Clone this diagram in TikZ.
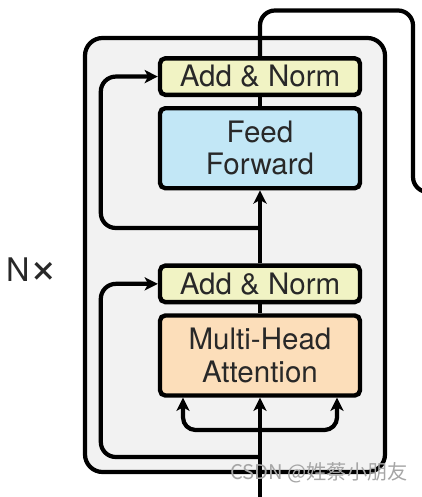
\documentclass[tikz,border=0pt]{standalone}
\usepackage{fontspec}
\setmainfont{TeX Gyre Heros}
\newfontfamily\cjkfont{Noto Sans CJK SC}
\usepackage{xcolor}
\usetikzlibrary{arrows.meta,positioning,calc}

\definecolor{normyellow}{RGB}{241,243,196}
\definecolor{ffblue}{RGB}{194,231,246}
\definecolor{attnorange}{RGB}{252,222,186}
\definecolor{layergray}{RGB}{242,242,242}
\definecolor{textgray}{RGB}{40,40,40}

\begin{document}
\begin{tikzpicture}[
    node distance=0.18cm,
    block/.style={rectangle, draw, rounded corners=3pt, line width=2.5pt, inner sep=2pt, minimum width=4cm, align=center, text=textgray, font=\fontsize{16.8}{18.4}\selectfont},
    addnorm/.style={block, fill=normyellow, minimum height=0.73cm},
    sublayer/.style={block, minimum height=1.6cm},
    wire/.style={line width=2.4pt},
    arrow/.style={wire, -{Stealth[length=7.5pt, width=7.5pt, inset=2pt]}},
    layer/.style={draw, line width=2.4pt, fill=layergray, rounded corners=10pt}
]
\useasboundingbox (0,0) rectangle (8.42,-9.94);

% Encoder layer, repeated N times
\draw[layer] (1.70,-0.76) rectangle (7.70,-9.44);
\node[font=\fontsize{18.5}{20}\selectfont, text=textgray, inner sep=0pt] (nx) at (0.64,-5.42) {N\raisebox{-1.2pt}{\scalebox{1.5}{×}}};

% Sub-layers
\node[sublayer, fill=attnorange] (mha) at (5.2,-7.11) {Multi-Head\\Attention};
\node[addnorm, above=of mha] (norm1) {Add \& Norm};
\node[sublayer, fill=ffblue, above=1.46cm of norm1] (ff) {Feed\\Forward};
\node[addnorm, above=of ff] (norm2) {Add \& Norm};

% Wire points
\coordinate (in) at (5.2,-10.1);
\coordinate (split) at (5.2,-8.6);
\coordinate (res1) at (5.2,-9.14);
\coordinate (res2) at (5.2,-4.56);
\coordinate (turn) at (8.26,-0.21);
\coordinate (out) at (8.7,-3.84);

% Main path
\draw[arrow] (in) -- (mha.south);
\draw[wire] (mha.north) -- (norm1.south);
\draw[arrow] (norm1.north) -- (ff.south);
\draw[wire] (ff.north) -- (norm2.south);
\draw[wire, rounded corners=0.3cm] (norm2.north) |- (turn) |- (out);

% Q, K, V inputs
\draw[arrow, rounded corners=0.25cm] (split) -| ([xshift=-1.54cm]mha.south);
\draw[arrow, rounded corners=0.25cm] (split) -| ([xshift=1.54cm]mha.south);

% Residual connections
\draw[arrow, rounded corners=0.3cm] (res1) -| ([xshift=-1.14cm]norm1.west) -- (norm1.west);
\draw[arrow, rounded corners=0.3cm] (res2) -| ([xshift=-1.14cm]norm2.west) -- (norm2.west);

% Watermark
\node[font=\cjkfont\fontsize{11.5}{12}\selectfont, text=gray!70] (mark) at (6.38,-9.46) {CSDN @姓蔡小朋友};

\end{tikzpicture}
\end{document}
